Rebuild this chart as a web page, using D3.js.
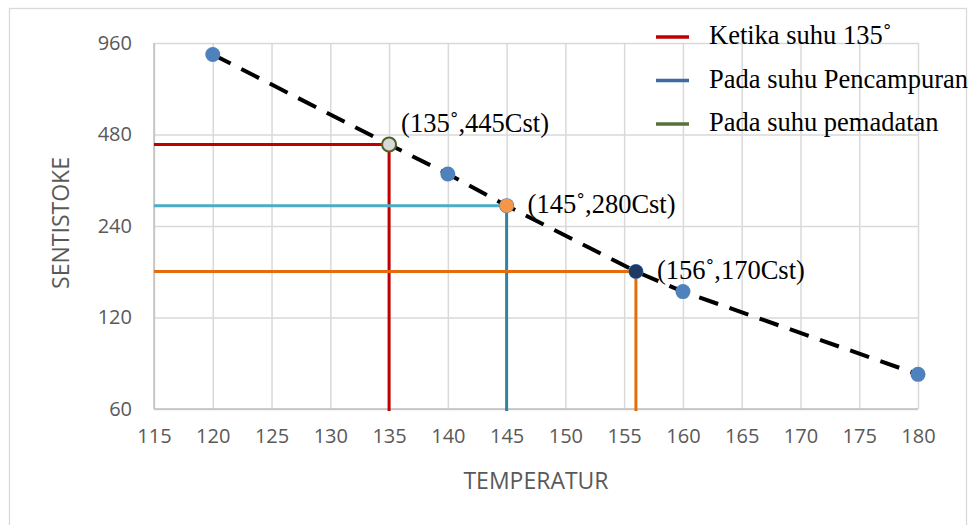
<!DOCTYPE html>
<html>
<head>
<meta charset="utf-8">
<script src="https://cdn.jsdelivr.net/npm/d3@7"></script>
<style>
  body { margin: 0; background: #fff; }
  .tick text { font-family: "Open Sans", sans-serif; font-size: 20px; fill: #595959; }
  .axisTitle { font-family: "Open Sans", sans-serif; font-size: 23px; fill: #595959; }
  .serifText { font-family: "Liberation Serif", "Times New Roman", serif; font-size: 26.5px; fill: #000; }
</style>
</head>
<body>
<div id="chart"></div>
<script>
// data
var temps = [120, 135, 140, 145, 156, 160, 180];
var viscosity = [880, 445, 356, 280, 170, 146, 78];

// the three marked temperatures
var markTemps = [135, 145, 156];
var markVisc = [445, 280, 170];
var markLabels = ["(135\u02DA,445Cst)", "(145\u02DA,280Cst)", "(156\u02DA,170Cst)"];

var xTicks = [115, 120, 125, 130, 135, 140, 145, 150, 155, 160, 165, 170, 175, 180];
var yTicks = [60, 120, 240, 480, 960];

var legendLabels = ["Ketika suhu 135\u02DA", "Pada suhu Pencampuran", "Pada suhu pemadatan"];

var width = 972, height = 525;
var margin = {top: 43, right: 54, bottom: 116, left: 154};
var plotW = width - margin.left - margin.right;
var plotH = height - margin.top - margin.bottom;

var svg = d3.select("#chart").append("svg")
    .attr("width", width)
    .attr("height", height);

// outer chart border
svg.append("rect")
    .attr("x", 9.5).attr("y", 8.5)
    .attr("width", 957).attr("height", 530)
    .attr("fill", "none")
    .attr("stroke", "#d9d9d9")
    .attr("stroke-width", 1.3);

var g = svg.append("g").attr("transform", "translate(" + margin.left + "," + margin.top + ")");

var x = d3.scaleLinear().domain([115, 180]).range([0, plotW]);
var y = d3.scaleLog().base(2).domain([60, 960]).range([plotH, 0]);

//gridlines + tick labels
var yAxis = g.append("g")
    .call(d3.axisLeft(y).tickValues(yTicks).tickSize(-plotW).tickPadding(22).tickFormat(d3.format("d")));
yAxis.select(".domain").remove();
yAxis.selectAll(".tick line").attr("stroke", "#d9d9d9").attr("stroke-width", 1.5);

var xAxis = g.append("g")
    .attr("transform", "translate(0," + plotH + ")")
    .call(d3.axisBottom(x).tickValues(xTicks).tickSize(-plotH).tickPadding(20));
xAxis.select(".domain").remove();
xAxis.selectAll(".tick line").attr("stroke", "#d9d9d9").attr("stroke-width", 1.5);

// axis lines
g.append("line").attr("x1", 0).attr("x2", 0).attr("y1", 0).attr("y2", plotH)
    .attr("stroke", "#bfbfbf").attr("stroke-width", 1.5);
g.append("line").attr("x1", 0).attr("x2", plotW).attr("y1", plotH).attr("y2", plotH)
    .attr("stroke", "#bfbfbf").attr("stroke-width", 1.5);

// reference lines for the marked temperatures
var hColors = ["#C00000", "#4BACC6", "#E46C0A"];
var vColors = ["#C00000", "#31849B", "#E46C0A"];

markTemps.forEach(function (t, i) {
    g.append("line")
        .attr("x1", 0).attr("x2", x(t))
        .attr("y1", y(markVisc[i])).attr("y2", y(markVisc[i]))
        .attr("stroke", hColors[i]).attr("stroke-width", 3);
    g.append("line")
        .attr("x1", x(t)).attr("x2", x(t))
        .attr("y1", y(markVisc[i])).attr("y2", plotH + 2)
        .attr("stroke", vColors[i]).attr("stroke-width", 3);
});

// dashed viscosity curve
var line = d3.line()
    .x(function (d, i) { return x(temps[i]); })
    .y(function (d) { return y(d); });

g.append("path")
    .datum(viscosity)
    .attr("d", line)
    .attr("fill", "none")
    .attr("stroke", "#000")
    .attr("stroke-width", 4)
    .attr("stroke-dasharray", "20,12");

// plain points
g.selectAll(".pt").data(viscosity)
    .enter().append("circle")
    .attr("class", "pt")
    .attr("cx", function (d, i) { return x(temps[i]); })
    .attr("cy", function (d) { return y(d); })
    .attr("r", 7.5)
    .attr("fill", "#4F81BD");

// highlighted points
var markFill = ["#D9D9D9", "#F79646", "#1F3864"];
var markStroke = ["#4F6228", "none", "none"];
g.selectAll(".mk").data(markVisc)
    .enter().append("circle")
    .attr("class", "mk")
    .attr("cx", function (d, i) { return x(markTemps[i]); })
    .attr("cy", function (d) { return y(d); })
    .attr("r", 7)
    .attr("fill", function (d, i) { return markFill[i]; })
    .attr("stroke", function (d, i) { return markStroke[i]; })
    .attr("stroke-width", 2);

// point labels
var labelDx = [12, 21, 21];
var labelDy = [-12, 7, 7];
g.selectAll(".lbl").data(markLabels)
    .enter().append("text")
    .attr("class", "serifText")
    .attr("x", function (d, i) { return x(markTemps[i]) + labelDx[i]; })
    .attr("y", function (d, i) { return y(markVisc[i]) + labelDy[i]; })
    .text(function (d) { return d; });

// axis titles
svg.append("text")
    .attr("class", "axisTitle")
    .attr("x", 536).attr("y", 489)
    .attr("text-anchor", "middle")
    .text("TEMPERATUR");

svg.append("text")
    .attr("class", "axisTitle")
    .attr("transform", "translate(69,223) rotate(-90)")
    .attr("text-anchor", "middle")
    .text("SENTISTOKE");

// legend
var legendColors = ["#C00000", "#3F6A9E", "#58703A"];
var legend = svg.append("g").attr("transform", "translate(656,37)");
legendLabels.forEach(function (lab, i) {
    legend.append("line")
        .attr("x1", 0).attr("x2", 33)
        .attr("y1", i * 43.5).attr("y2", i * 43.5)
        .attr("stroke", legendColors[i]).attr("stroke-width", 3.5);
    legend.append("text")
        .attr("class", "serifText")
        .attr("x", 53).attr("y", i * 43.5 + 7)
        .text(lab);
});
</script>
</body>
</html>
